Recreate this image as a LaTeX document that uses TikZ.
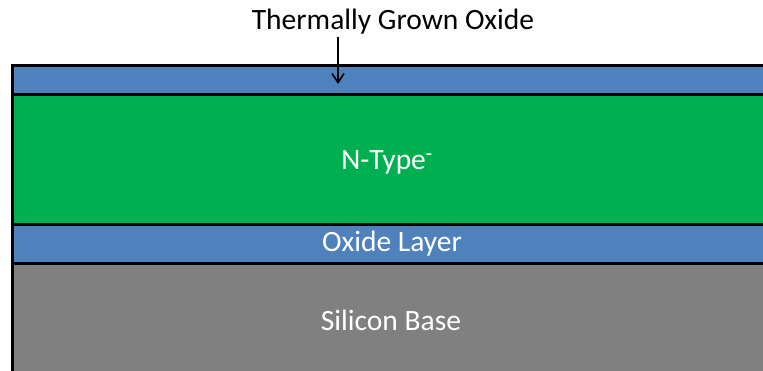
\documentclass[tikz,border=0pt]{standalone}
\usepackage{fontspec}
\setmainfont{Carlito}
\usetikzlibrary{arrows.meta}
\definecolor{oxblue}{HTML}{4F81BD}
\definecolor{ngreen}{HTML}{00B050}
\definecolor{sigray}{HTML}{808080}
\tikzset{
  layer/.style={draw=black, line width=3pt, anchor=north west, inner sep=0pt, outer sep=0pt, minimum width=780pt},
  lbl/.style={text=white, font=\fontsize{29.5}{33}\selectfont},
  toplbl/.style={text=black, font=\fontsize{29.5}{33}\selectfont},
  pointer/.style={-{Straight Barb[length=9pt,width=12pt,line width=1.6pt]}, line width=1.6pt}
}
\begin{document}
\begin{tikzpicture}[x=1pt,y=-1pt]
\useasboundingbox (0,0) rectangle (763,371);
\clip (0,0) rectangle (763,371);
\node[layer, fill=sigray, minimum height=140pt] (base) at (12.5,263.3) {};
\node[layer, fill=oxblue, minimum height=39pt] (oxide) at (12.5,224.3) {};
\node[layer, fill=ngreen, minimum height=129.6pt] (ntype) at (12.5,94.7) {};
\node[layer, fill=oxblue, minimum height=29pt] (tgo) at (12.5,65.7) {};
\node[lbl] (lbase) at (391,320) {Silicon Base};
\node[lbl] (loxide) at (392,244) {Oxide Layer};
\node[lbl] (lntype) at (387,162) {N-Type\textsuperscript{-}};
\node[toplbl] (ltgo) at (393,21.5) {Thermally Grown Oxide};
\coordinate (tip) at (338,84);
\draw[pointer] (338,37) -- (tip);
\end{tikzpicture}
\end{document}
